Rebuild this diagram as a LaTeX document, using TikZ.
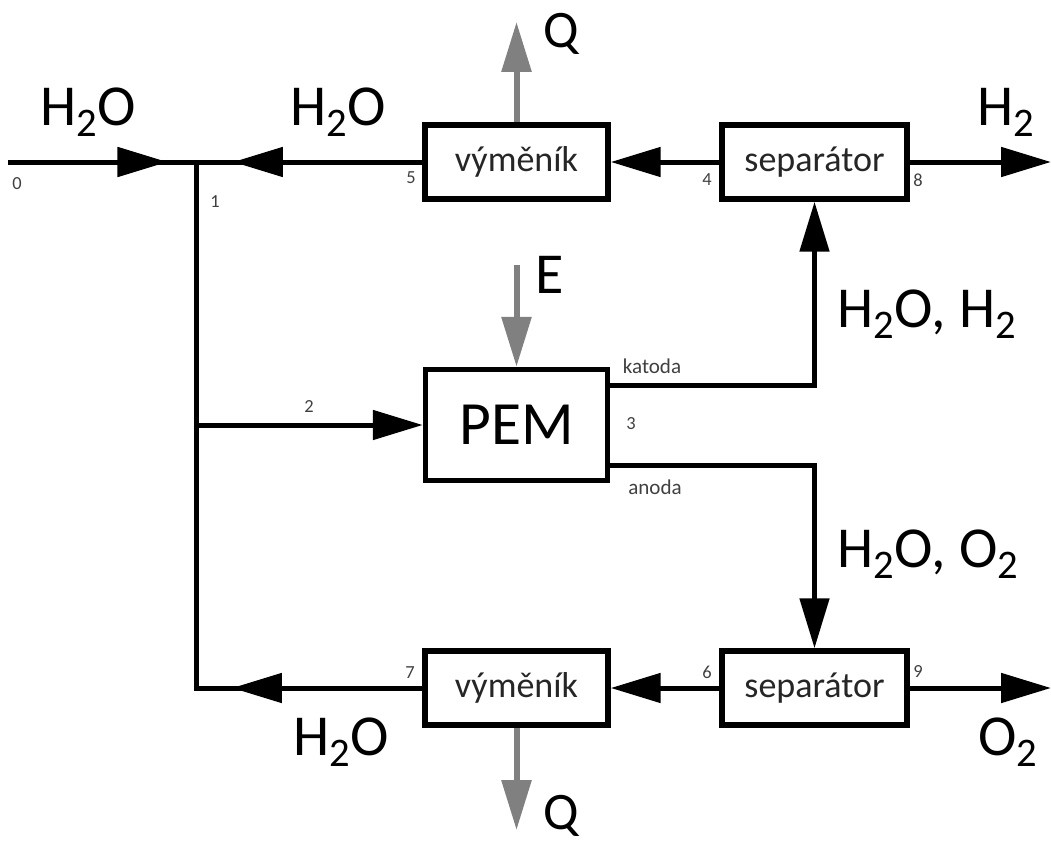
\documentclass[tikz,border=0pt]{standalone}
\usepackage{fontspec}
\setmainfont{Carlito}
\usetikzlibrary{arrows.meta,positioning,decorations.markings}
\definecolor{ProudGray}{HTML}{808080}
\definecolor{CisloGray}{HTML}{404040}

\begin{document}
\begin{tikzpicture}[x=0.02cm,y=-0.02cm,
  hrot/.tip={Triangle[length=1cm,width=0.58cm]},
  box/.style={draw=black,line width=0.11cm,minimum width=3.66cm,minimum height=1.48cm,align=center,fill=white,text=black!85,font=\fontsize{20.5}{24}\selectfont},
  tok/.style={line width=0.1cm,black,line cap=rect},
  teplo/.style={line width=0.12cm,ProudGray,-hrot},
  uprostred/.style={postaction={decorate},decoration={markings,mark=at position #1 with {\arrow{hrot}}}},
  velky/.style={font=\fontsize{33}{38}\selectfont,anchor=base,inner sep=0pt},
  cislo/.style={font=\fontsize{10.5}{12}\selectfont,text=CisloGray,inner sep=0pt},
  popis/.style={font=\fontsize{12}{14}\selectfont,text=CisloGray,inner sep=0pt}]
  \useasboundingbox (0,0) rectangle (1051,845);
  \node[box] (vym1) at (516.5,162) {výměník};
  \node[box,minimum width=3.7cm] (sep1) at (814.5,162) {separátor};
  \node[box,minimum width=3.64cm,minimum height=2.22cm,text=black,font=\fontsize{35}{40}\selectfont] (pem) at (516.5,425) {PEM};
  \node[box] (vym2) at (516.5,688) {výměník};
  \node[box,minimum width=3.7cm] (sep2) at (814.5,688) {separátor};
  \coordinate (vstup) at (10,162);
  \coordinate (j1) at (196,162);
  \coordinate (j2) at (196,425);
  \coordinate (j3) at (196,688);
  \coordinate (h2out) at (1051,162);
  \coordinate (o2out) at (1051,688);
  \coordinate (kat) at (814.5,385);
  \coordinate (ano) at (814.5,465);
  \coordinate (qhore) at (516.5,22);
  \coordinate (qdole) at (516.5,830);
  \coordinate (ein) at (516.5,265);
  \draw[tok,uprostred=3.15cm] (vstup) -- (j1);
  \draw[tok,uprostred=-0.74cm] (vym1) -- (j1);
  \draw[tok,-hrot] (sep1) -- (vym1);
  \draw[tok,-hrot] (sep1) -- (h2out);
  \draw[tok] (j1) -- (j3);
  \draw[tok,-hrot] (j2) -- (pem);
  \draw[tok,-hrot] (pem.east |- kat) -- (kat) -- (sep1);
  \draw[tok,-hrot] (pem.east |- ano) -- (ano) -- (sep2);
  \draw[tok,-hrot] (sep2) -- (vym2);
  \draw[tok,-hrot] (sep2) -- (o2out);
  \draw[tok,uprostred=-0.72cm] (vym2) -- (j3);
  \draw[teplo] (vym1) -- (qhore);
  \draw[teplo] (ein) -- (pem);
  \draw[teplo] (vym2) -- (qdole);
  \node[velky] (lvstup) at (88,125) {H\textsubscript{2}O};
  \node[velky] (lvrat1) at (338,125) {H\textsubscript{2}O};
  \node[velky,font=\fontsize{30}{34}\selectfont] (lq1) at (561,47) {Q};
  \node[velky] (lh2) at (1006,125) {H\textsubscript{2}};
  \node[velky] (le) at (550,293) {E};
  \node[velky] (lkat) at (927,327) {H\textsubscript{2}O, H\textsubscript{2}};
  \node[velky] (lano) at (928,567) {H\textsubscript{2}O, O\textsubscript{2}};
  \node[velky] (lvrat2) at (341,755) {H\textsubscript{2}O};
  \node[velky] (lo2) at (1008,755) {O\textsubscript{2}};
  \node[velky,font=\fontsize{30}{34}\selectfont] (lq2) at (561,829) {Q};
  \node[cislo] (c0) at (17,184) {0};
  \node[cislo] (c1) at (215,202) {1};
  \node[cislo] (c2) at (309,407) {2};
  \node[cislo] (c3) at (631,424) {3};
  \node[cislo] (c4) at (707,180) {4};
  \node[cislo] (c5) at (411,178) {5};
  \node[cislo] (c6) at (707,672) {6};
  \node[cislo] (c7) at (410,673) {7};
  \node[cislo] (c8) at (918,180) {8};
  \node[cislo] (c9) at (918,672) {9};
  \node[popis] (lkatoda) at (652,366) {katoda};
  \node[popis] (lanoda) at (655,487) {anoda};
\end{tikzpicture}
\end{document}
